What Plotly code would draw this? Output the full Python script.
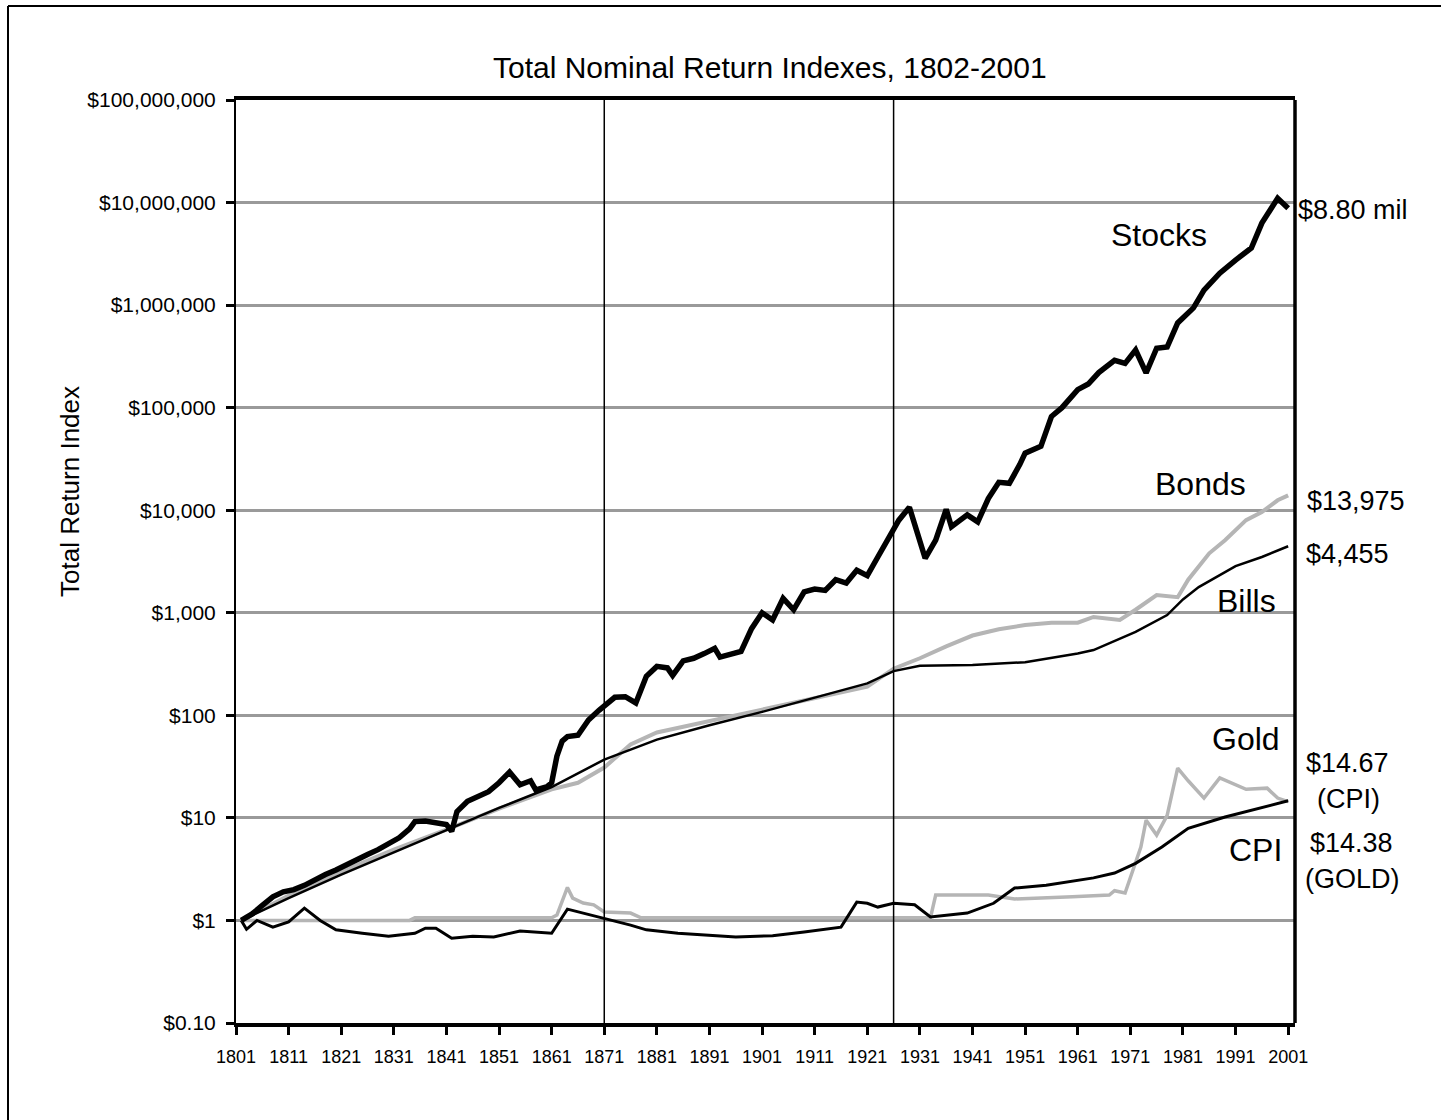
import plotly.graph_objects as go

# ---------------- data ----------------
stocks_years = [1802, 1804, 1806, 1808, 1810, 1812, 1814, 1816, 1818, 1820, 1822, 1824, 1826, 1828,
                1830, 1832, 1834, 1835, 1837, 1839, 1841, 1842, 1843, 1845, 1847, 1849, 1851, 1853,
                1855, 1857, 1858, 1860, 1861, 1862, 1863, 1864, 1866, 1868, 1870, 1871, 1873, 1875,
                1877, 1879, 1881, 1883, 1884, 1886, 1888, 1890, 1892, 1893, 1895, 1897, 1899, 1901,
                1903, 1905, 1907, 1909, 1911, 1913, 1915, 1917, 1919, 1921, 1923, 1925, 1927, 1929,
                1930, 1931, 1932, 1934, 1936, 1937, 1940, 1942, 1944, 1946, 1948, 1950, 1951, 1954,
                1956, 1958, 1961, 1963, 1965, 1968, 1970, 1972, 1974, 1976, 1978, 1980, 1983, 1985,
                1988, 1991, 1994, 1996, 1999, 2001]
stocks_values = [1.0, 1.15, 1.4, 1.7, 1.9, 2.0, 2.2, 2.5, 2.8, 3.1, 3.5, 4.0, 4.4, 4.9,
                 5.6, 6.4, 7.8, 9.2, 9.3, 9.0, 8.6, 7.4, 11.5, 14.5, 16, 18, 22, 28,
                 21, 23, 18.7, 20, 22, 40, 56, 62, 64, 90, 112, 125, 150, 152,
                 132, 240, 300, 290, 245, 340, 360, 400, 450, 370, 390, 420, 700, 1000,
                 850, 1380, 1070, 1600, 1700, 1650, 2100, 1950, 2600, 2300, 3500, 5200, 8000, 10700,
                 7500, 5000, 3400, 5100, 10200, 6900, 9000, 7700, 13000, 18700, 18300, 28000, 36000, 42000,
                 82000, 100000, 150000, 170000, 220000, 290000, 270000, 365000, 218000, 380000, 390000, 670000, 940000, 1.4e6,
                 2.05e6, 2.75e6, 3.6e6, 6.3e6, 1.1e7, 8.8e6]

bonds_years = [1802, 1811, 1821, 1831, 1841, 1851, 1861, 1866, 1871, 1876, 1881, 1891, 1901, 1911,
               1921, 1926, 1931, 1936, 1941, 1946, 1951, 1956, 1961, 1964, 1969, 1972, 1976, 1980,
               1982, 1986, 1989, 1993, 1996, 1999, 2001]
bonds_values = [1.0, 1.75, 3.0, 4.9, 7.7, 12.3, 19, 22, 31, 52, 68, 88, 115, 150,
                190, 285, 360, 470, 600, 690, 760, 800, 800, 910, 850, 1070, 1490, 1420,
                2100, 3800, 5100, 8000, 9600, 12500, 13975]

bills_years = [1802, 1811, 1821, 1831, 1841, 1851, 1861, 1871, 1881, 1891, 1901, 1911, 1921, 1926,
               1931, 1941, 1951, 1961, 1964, 1972, 1978, 1981, 1984, 1991, 1996, 2001]
bills_values = [1.0, 1.65, 2.8, 4.6, 7.6, 12.5, 20, 37, 58, 80, 108, 150, 205, 270,
                305, 310, 330, 400, 433, 650, 950, 1350, 1780, 2850, 3500, 4455]

cpi_years = [1802, 1803, 1805, 1808, 1811, 1814, 1817, 1820, 1825, 1830, 1835, 1837, 1839, 1842,
             1846, 1850, 1855, 1861, 1864, 1867, 1871, 1876, 1879, 1885, 1896, 1903, 1909, 1916,
             1919, 1921, 1923, 1926, 1930, 1933, 1940, 1945, 1949, 1955, 1964, 1968, 1972, 1977,
             1982, 1989, 2001]
cpi_values = [1.0, 0.82, 1.0, 0.86, 0.97, 1.32, 1.0, 0.81, 0.75, 0.70, 0.75, 0.84, 0.84, 0.67,
              0.70, 0.69, 0.79, 0.75, 1.29, 1.18, 1.06, 0.90, 0.81, 0.75, 0.69, 0.71, 0.77, 0.86,
              1.51, 1.47, 1.35, 1.47, 1.42, 1.08, 1.18, 1.47, 2.07, 2.2, 2.6, 2.9, 3.6, 5.2,
              7.9, 10.2, 14.67]

gold_years = [1802, 1834, 1835, 1861, 1862, 1864, 1865, 1867, 1869, 1871, 1876, 1878, 1933, 1934,
              1944, 1949, 1960, 1967, 1968, 1970, 1973, 1974, 1976, 1978, 1980, 1982, 1985, 1988,
              1993, 1997, 1999, 2001]
gold_values = [1.0, 1.0, 1.06, 1.06, 1.13, 2.1, 1.65, 1.48, 1.42, 1.21, 1.18, 1.06, 1.06, 1.77,
               1.77, 1.62, 1.7, 1.77, 1.95, 1.85, 5.2, 9.5, 6.8, 10.6, 30.6, 23, 15.6, 24.5,
               19, 19.5, 15.6, 14.38]

x_ticks = list(range(1801, 2002, 10))
y_tickvals = [0.1, 1, 10, 100, 1000, 10000, 100000, 1000000, 10000000, 100000000]
y_ticktext = ["$0.10", "$1", "$10", "$100", "$1,000", "$10,000", "$100,000",
              "$1,000,000", "$10,000,000", "$100,000,000"]
marker_years = [1871, 1926]

# ---------------- layout helpers (pixel -> paper) ----------------
W, H = 1441, 1120
L, R, T, B = 236, 1295, 100, 1023


def px(x):
    return (x - L) / (R - L)


def py(y):
    return (B - y) / (B - T)


FONT = "Liberation Sans, Arial, sans-serif"
GRAY = "#b5b5b5"

fig = go.Figure()
fig.add_trace(go.Scatter(x=gold_years, y=gold_values, mode="lines", name="Gold",
                         line=dict(color=GRAY, width=3.5)))
fig.add_trace(go.Scatter(x=cpi_years, y=cpi_values, mode="lines", name="CPI",
                         line=dict(color="black", width=3)))
fig.add_trace(go.Scatter(x=bonds_years, y=bonds_values, mode="lines", name="Bonds",
                         line=dict(color=GRAY, width=4)))
fig.add_trace(go.Scatter(x=bills_years, y=bills_values, mode="lines", name="Bills",
                         line=dict(color="black", width=2.5)))
fig.add_trace(go.Scatter(x=stocks_years, y=stocks_values, mode="lines", name="Stocks",
                         line=dict(color="black", width=5.5)))

shapes = []
for yr in marker_years:
    shapes.append(dict(type="line", xref="x", yref="paper", x0=yr, x1=yr, y0=0, y1=1,
                       line=dict(color="black", width=1.5)))
# right axis line (thicker)
shapes.append(dict(type="line", xref="paper", yref="paper", x0=1, x1=1, y0=0, y1=1,
                   line=dict(color="black", width=3.5)))
# outer frame (left & top edges visible)
shapes.append(dict(type="line", xref="paper", yref="paper", x0=px(8), x1=px(8), y0=py(6), y1=py(1125),
                   line=dict(color="black", width=2)))
shapes.append(dict(type="line", xref="paper", yref="paper", x0=px(8), x1=px(1445), y0=py(6), y1=py(6),
                   line=dict(color="black", width=2)))

ann = []


def label(text, x, y, size, anchor="center", angle=0):
    ann.append(dict(text=text, xref="paper", yref="paper", x=px(x), y=py(y), showarrow=False,
                    xanchor=anchor, yanchor="middle", textangle=angle,
                    font=dict(family=FONT, size=size, color="black")))


label("Total Nominal Return Indexes, 1802-2001", 770, 67, 30)
label("Total Return Index", 70, 492, 26, angle=-90)
label("Stocks", 1159, 235, 32)
label("Bonds", 1200, 484, 32)
label("Bills", 1246, 601, 32)
label("Gold", 1246, 739, 32)
label("CPI", 1255, 850, 32)
label("$8.80 mil", 1353, 210, 27)
label("$13,975", 1356, 501, 27)
label("$4,455", 1347, 554, 27)
label("$14.67", 1347, 763, 27)
label("(CPI)", 1348, 799, 27)
label("$14.38", 1351, 843, 27)
label("(GOLD)", 1352, 879, 27)

fig.update_layout(
    width=W, height=H,
    margin=dict(l=L, r=W - R, t=T, b=H - B),
    paper_bgcolor="white", plot_bgcolor="white",
    showlegend=False,
    shapes=shapes, annotations=ann,
    xaxis=dict(range=[1801, 2002.3], tickvals=x_ticks, ticktext=[str(v) for v in x_ticks],
               showgrid=False, zeroline=False, showline=True, linecolor="black", linewidth=3.5,
               mirror=True, ticks="outside", ticklen=8, tickwidth=3, tickcolor="black",
               tickfont=dict(family=FONT, size=18, color="black"), ticklabelstandoff=7),
    yaxis=dict(type="log", range=[-1, 8], tickvals=y_tickvals, ticktext=y_ticktext,
               showgrid=True, gridcolor="#9a9a9a", gridwidth=2.5, zeroline=False,
               showline=True, linecolor="black", linewidth=2, ticks="outside", ticklen=8,
               tickwidth=3, tickcolor="black",
               tickfont=dict(family=FONT, size=21, color="black"), ticklabelstandoff=6),
)

fig.write_html("out.html")
